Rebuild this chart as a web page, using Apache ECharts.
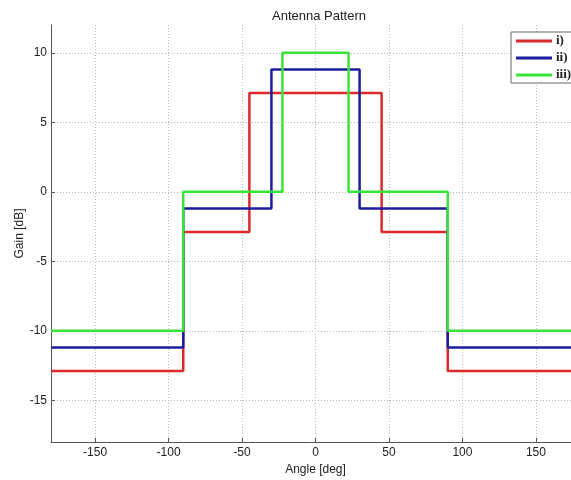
<!DOCTYPE html>
<html>
<head>
<meta charset="utf-8">
<script src="https://cdn.jsdelivr.net/npm/echarts@6/dist/echarts.min.js"></script>
<style>
  html, body { margin: 0; padding: 0; background: #fff; }
  #chart { width: 571px; height: 480px; }
</style>
</head>
<body>
<div id="chart"></div>
<script>
// Piecewise-constant gain patterns: edges of each angular segment (deg) and the gain (dB) on it
const seriesNames = ['i)', 'ii)', 'iii)'];
const edgesI = [-180, -90, -45, 45, 90, 180];
const gainI = [-12.9, -2.9, 7.1, -2.9, -12.9];
const edgesII = [-180, -90, -30, 30, 90, 180];
const gainII = [-11.2, -1.2, 8.8, -1.2, -11.2];
const edgesIII = [-180, -90, -22.5, 22.5, 90, 180];
const gainIII = [-10, 0, 10, 0, -10];

const lineColors = ['#dc2a2a', '#1c1ca0', '#38e438'];

// Turn segment edges + levels into a stepped polyline
function stepPoints(edges, levels) {
  const pts = [];
  for (let i = 0; i < levels.length; i++) {
    pts.push([edges[i], levels[i]]);
    pts.push([edges[i + 1], levels[i]]);
  }
  return pts;
}

const patterns = [
  stepPoints(edgesI, gainI),
  stepPoints(edgesII, gainII),
  stepPoints(edgesIII, gainIII)
];

const font = 'Liberation Sans, Arial, sans-serif';
const chart = echarts.init(document.getElementById('chart'), null, { renderer: 'canvas' });

chart.setOption({
  animation: false,
  backgroundColor: '#ffffff',
  title: {
    text: 'Antenna Pattern',
    left: 267,
    top: 5,
    textStyle: { fontFamily: font, fontSize: 13, fontWeight: 'normal', color: '#222' }
  },
  legend: {
    orient: 'vertical',
    left: 511,
    top: 32,
    padding: [2, 14, 1, 5],
    itemGap: 3,
    itemWidth: 36,
    itemHeight: 3,
    icon: 'rect',
    backgroundColor: '#ffffff',
    borderColor: '#666',
    borderWidth: 1,
    borderRadius: 0,
    textStyle: { fontFamily: 'Liberation Serif, Times New Roman, serif', fontSize: 13, fontWeight: 'bold', color: '#222', lineHeight: 14, padding: [0, 0, 0, -1] },
    data: seriesNames
  },
  // the plotting area runs a few pixels past the right edge of the page
  grid: { left: 51, width: 529, top: 25, bottom: 38, containLabel: false, outerBoundsMode: 'none' },
  xAxis: {
    type: 'value',
    min: -180,
    max: 180,
    splitNumber: 7,
    name: 'Angle [deg]',
    nameLocation: 'middle',
    nameGap: 19,
    nameTextStyle: { fontFamily: font, fontSize: 12, color: '#222' },
    axisLine: { show: true, onZero: false, lineStyle: { color: '#555', width: 1 } },
    axisTick: { show: true, inside: true, length: 4, lineStyle: { color: '#555' } },
    axisLabel: { fontFamily: font, fontSize: 12, color: '#222', margin: 5, showMinLabel: false, showMaxLabel: false },
    splitLine: { show: true, showMinLine: false, showMaxLine: false, lineStyle: { color: '#b8b8b8', type: [1, 2], width: 1 } }
  },
  yAxis: {
    type: 'value',
    min: -18,
    max: 12,
    splitNumber: 6,
    name: 'Gain [dB]',
    nameLocation: 'middle',
    nameGap: 25,
    nameMoveOverlap: false,
    nameTextStyle: { fontFamily: font, fontSize: 12, color: '#222' },
    axisLine: { show: true, onZero: false, lineStyle: { color: '#555', width: 1 } },
    axisTick: { show: true, inside: true, length: 4, lineStyle: { color: '#555' } },
    axisLabel: { fontFamily: font, fontSize: 12, color: '#222', margin: 4, showMinLabel: false, showMaxLabel: false },
    splitLine: { show: true, showMinLine: false, showMaxLine: false, lineStyle: { color: '#b8b8b8', type: [1, 2], width: 1 } }
  },
  series: patterns.map((pts, k) => ({
    name: seriesNames[k],
    type: 'line',
    data: pts,
    showSymbol: false,
    symbol: 'none',
    color: lineColors[k],
    lineStyle: { color: lineColors[k], width: 2.5 },
    z: 2 + k
  }))
});
</script>
</body>
</html>
